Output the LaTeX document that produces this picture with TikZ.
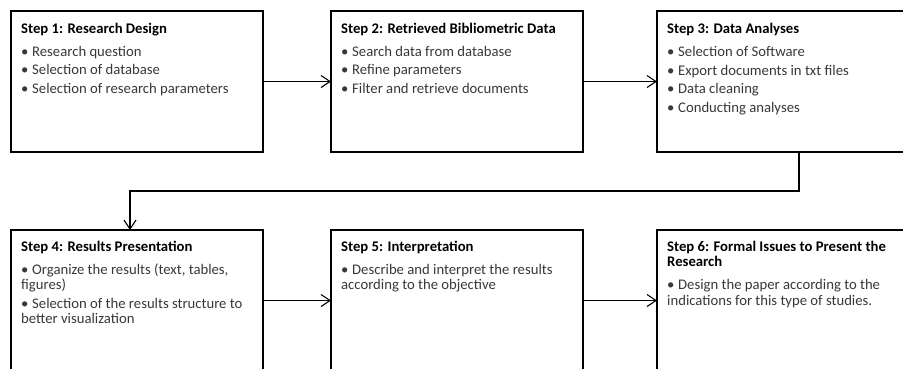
\documentclass[tikz,border=0pt]{standalone}
\usepackage{fontspec}
\setmainfont{Carlito}
\usetikzlibrary{arrows.meta,positioning}
\tikzset{
	stepbox/.style={draw, line width=2.2pt, minimum width=252pt, minimum height=141pt, inner sep=0pt, outer sep=0pt},
	widebox/.style={stepbox, minimum width=284pt},
	steptext/.style={anchor=north west, align=left, inner sep=0pt, text=black!78, font=\fontsize{14.7}{15}\selectfont},
	flow/.style={line width=1.1pt, -{Straight Barb[length=9pt,width=12pt,line width=1.1pt]}}
}
\newcommand{\steptitle}[1]{\textcolor{black}{\textbf{#1}}}
\newcommand{\bul}{\makebox[11pt][l]{•}}
\begin{document}
\begin{tikzpicture}[x=1pt,y=-1pt]
	\useasboundingbox (0,0) rectangle (903,368);
	\clip (0,0) rectangle (903,368);

	\node[stepbox, anchor=north west] (s1) at (11,11) {};
	\node[stepbox, right=68pt of s1] (s2) {};
	\node[widebox, anchor=north west] (s3) at (657,11) {};
	\node[stepbox, below=78pt of s1] (s4) {};
	\node[stepbox, below=78pt of s2] (s5) {};
	\node[widebox, anchor=north west] (s6) at (657,230) {};

	\node[steptext] (t1) at ([shift={(10pt,-11.5pt)}]s1.north west) {\steptitle{Step 1: Research Design}\\[8.5pt]
		\bul Research question\\[3.3pt]
		\bul Selection of database\\[3.3pt]
		\bul Selection of research parameters};
	\node[steptext] (t2) at ([shift={(10pt,-11.5pt)}]s2.north west) {\steptitle{Step 2: Retrieved Bibliometric Data}\\[8.5pt]
		\bul Search data from database\\[3.3pt]
		\bul Refine parameters\\[3.3pt]
		\bul Filter and retrieve documents};
	\node[steptext] (t3) at ([shift={(10pt,-11.5pt)}]s3.north west) {\steptitle{Step 3: Data Analyses}\\[8.5pt]
		\bul Selection of Software\\[3.6pt]
		\bul Export documents in txt files\\[3.6pt]
		\bul Data cleaning\\[3.6pt]
		\bul Conducting analyses};
	\node[steptext] (t4) at ([shift={(10pt,-11pt)}]s4.north west) {\steptitle{Step 4: Results Presentation}\\[7.5pt]
		\bul Organize the results (text, tables,\\
		figures)\\[4pt]
		\bul Selection of the results structure to\\
		better visualization};
	\node[steptext] (t5) at ([shift={(10pt,-11pt)}]s5.north west) {\steptitle{Step 5: Interpretation}\\[7.5pt]
		\bul Describe and interpret the results\\
		according to the objective};
	\node[steptext] (t6) at ([shift={(10pt,-11pt)}]s6.north west) {\steptitle{Step 6: Formal Issues to Present the}\\
		\steptitle{Research}\\[8pt]
		\bul Design the paper according to the\\[1pt]
		indications for this type of studies.};

	\draw[flow] (s1.east) -- (s2.west);
	\draw[flow] (s2.east) -- (s3.west);
	\draw[flow] (s3.south) -- ++(0,-39pt) -| ([xshift=-7pt]s4.north);
	\draw[flow] (s4.east) -- (s5.west);
	\draw[flow] (s5.east) -- (s6.west);
\end{tikzpicture}
\end{document}
